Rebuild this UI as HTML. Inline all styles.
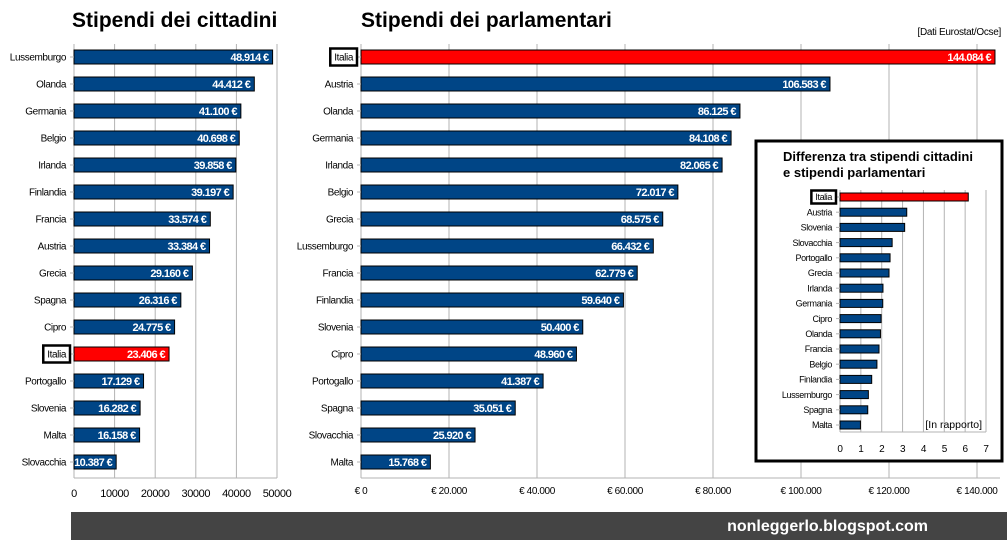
<!DOCTYPE html>
<html><head><meta charset="utf-8"><style>
body{margin:0;background:#fff;width:1007px;height:540px;overflow:hidden;font-family:"Liberation Sans",sans-serif}
svg text{font-family:"Liberation Sans",sans-serif}
</style></head><body>
<svg id="s" width="1007" height="540" xmlns="http://www.w3.org/2000/svg">
<text x="72" y="27" font-size="21" font-weight="bold">Stipendi dei cittadini</text>
<text x="361" y="27" font-size="21" font-weight="bold">Stipendi dei parlamentari</text>
<text x="1001" y="35" font-size="10" text-anchor="end" letter-spacing="-0.3">[Dati Eurostat/Ocse]</text>
<rect x="71" y="512" width="936" height="28" fill="#444"/>
<text x="928" y="531" font-size="16" font-weight="bold" fill="#fff" text-anchor="end">nonleggerlo.blogspot.com</text>
<g id="L"></g><g id="R"></g><g id="I"></g>
</svg>
<script>
const citCats=["Lussemburgo","Olanda","Germania","Belgio","Irlanda","Finlandia","Francia","Austria","Grecia","Spagna","Cipro","Italia","Portogallo","Slovenia","Malta","Slovacchia"];
const citVals=[48914,44412,41100,40698,39858,39197,33574,33384,29160,26316,24775,23406,17129,16282,16158,10387];
const citTicks=[0,10000,20000,30000,40000,50000];
const parCats=["Italia","Austria","Olanda","Germania","Irlanda","Belgio","Grecia","Lussemburgo","Francia","Finlandia","Slovenia","Cipro","Portogallo","Spagna","Slovacchia","Malta"];
const parVals=[144084,106583,86125,84108,82065,72017,68575,66432,62779,59640,50400,48960,41387,35051,25920,15768];
const parTicks=[0,20000,40000,60000,80000,100000,120000,140000];
const ratCats=["Italia","Austria","Slovenia","Slovacchia","Portogallo","Grecia","Irlanda","Germania","Cipro","Olanda","Francia","Belgio","Finlandia","Lussemburgo","Spagna","Malta"];
const ratVals=[6.15,3.2,3.1,2.5,2.4,2.35,2.06,2.05,1.97,1.94,1.87,1.77,1.52,1.36,1.33,0.98];
const ratTicks=[0,1,2,3,4,5,6,7];
const NS="http://www.w3.org/2000/svg";
function mk(g,t,a,txt){const e=document.createElementNS(NS,t);for(const k in a)e.setAttribute(k,a[k]);if(txt!==undefined)e.textContent=txt;g.appendChild(e);return e;}
function fmtDots(v){return String(v).replace(/\B(?=(\d{3})+(?!\d))/g,'.');}
function chart(g,o){
 const x=v=>o.x0+(v-o.min)/(o.max-o.min)*(o.x1-o.x0);
 const y=i=>o.yFirst+i*o.step;
 o.ticks.forEach(t=>{
  const gl=mk(g,'line',{x1:x(t),x2:x(t),y1:o.top,y2:o.bot,stroke:'#b3b3b3','stroke-width':1});
  
  const tl=mk(g,'text',{x:x(t),y:o.tickY,'font-size':o.tfs,'text-anchor':'middle','letter-spacing':'-0.4'},o.tickFmt(t));
  
 });
 const ax=mk(g,'line',{x1:o.x0,x2:o.x0,y1:o.top,y2:o.bot,stroke:'#b3b3b3'});
 
 const bx=mk(g,'line',{x1:o.x0,x2:o.x1+o.ext,y1:o.bot,y2:o.bot,stroke:'#b3b3b3'});
 
 o.cats.forEach((c,i)=>{
  const v=o.vals[i],cy=y(i),it=c==='Italia';
  const r=mk(g,'rect',{x:o.x0,y:cy-o.bh/2,width:x(v)-o.x0,height:o.bh,fill:it?'#ff0000':'#004586',stroke:'#000','stroke-width':1});
  
  mk(g,'line',{x1:o.x0-4,x2:o.x0,y1:cy,y2:cy,stroke:'#b3b3b3'});
  const lb=mk(g,'text',{x:o.x0-8,y:cy+o.lfs*0.36,'font-size':o.lfs,'text-anchor':'end','letter-spacing':'-0.4'},c);
  
  if(it){const w=lb.getComputedTextLength();const bb=mk(g,'rect',{x:o.x0-12-w,y:cy-o.bxh/2,width:w+8,height:o.bxh,fill:'none',stroke:'#000','stroke-width':2.5});
   }
  if(o.valLabels){const vl=mk(g,'text',{x:x(v)-4,y:cy+4,'font-size':11,'font-weight':'bold',fill:'#fff','text-anchor':'end','letter-spacing':'-0.6'},fmtDots(v)+' €');
   }
 });
}
chart(document.getElementById('L'),{cats:citCats,vals:citVals,ticks:citTicks,min:0,max:50000,x0:74,x1:277,ext:0,top:44,bot:478,yFirst:57,step:27,bh:14,tickY:497,tfs:11,lfs:10,bxh:17,valLabels:true,tickFmt:t=>String(t)});
chart(document.getElementById('R'),{cats:parCats,vals:parVals,ticks:parTicks,min:0,max:140000,x0:361,x1:977,ext:23,top:44,bot:478,yFirst:57,step:27,bh:14,tickY:494,tfs:10,lfs:10,bxh:17,valLabels:true,tickFmt:t=>'€ '+fmtDots(t)});
const I=document.getElementById('I');
const box=mk(I,'rect',{x:756,y:141,width:246,height:320,fill:'#fff',stroke:'#000','stroke-width':3});

const t1=mk(I,'text',{x:783,y:161,'font-size':13,'font-weight':'bold'},'Differenza tra stipendi cittadini');

const t2=mk(I,'text',{x:783,y:177,'font-size':13,'font-weight':'bold'},'e stipendi parlamentari');

const ig=mk(I,'g',{});
chart(ig,{cats:ratCats,vals:ratVals,ticks:ratTicks,min:0,max:7,x0:840,x1:986,ext:0,top:190,bot:432,yFirst:197,step:15.2,bh:8,tickY:452,tfs:10,lfs:9,bxh:13,valLabels:false,tickFmt:t=>String(t)});
const ir=mk(I,'text',{x:982,y:428,'font-size':10.5,'text-anchor':'end'},'[In rapporto]');

</script>
</body></html>
